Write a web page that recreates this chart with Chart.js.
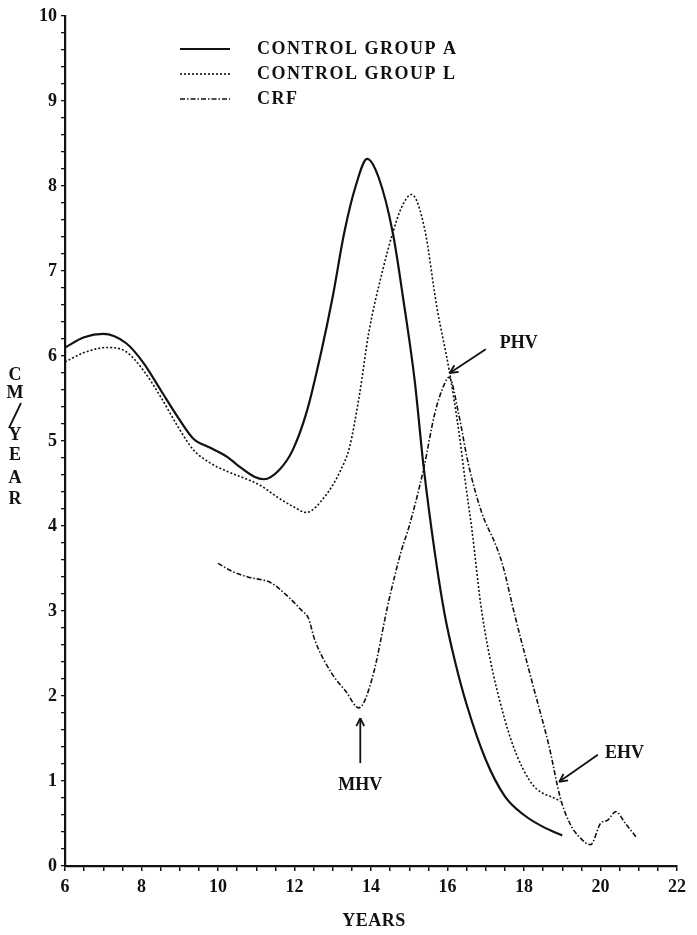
<!DOCTYPE html>
<html>
<head>
<meta charset="utf-8">
<script src="https://cdn.jsdelivr.net/npm/chart.js@4.4.1/dist/chart.umd.min.js"></script>
<style>
  html, body { margin: 0; padding: 0; background: #fff; }
  #wrap { width: 697px; height: 935px; }
</style>
</head>
<body>
<div id="wrap"><canvas id="growthChart"></canvas></div>
<script>
// values (age in years, velocity in cm/year)
const groupAYears = [6, 6.5, 7, 7.6, 8.05, 8.5, 8.95, 9.35, 9.8, 10.25, 10.5, 10.95, 11.2, 11.6, 11.95, 12.33, 12.7, 13.0, 13.3, 13.6, 13.9, 14.2, 14.57, 14.85, 15.14, 15.38, 15.67, 15.93, 16.2, 16.5, 17.0, 17.5, 18.0, 18.5, 19.0];
const groupAValues = [6.1, 6.22, 6.26, 6.15, 5.92, 5.6, 5.28, 5.03, 4.92, 4.81, 4.72, 4.58, 4.55, 4.66, 4.89, 5.36, 6.05, 6.7, 7.45, 8.0, 8.32, 8.1, 7.45, 6.65, 5.72, 4.68, 3.68, 2.95, 2.4, 1.9, 1.25, 0.82, 0.6, 0.46, 0.36];

const groupLYears = [6, 6.5, 7.1, 7.6, 8.05, 8.5, 8.95, 9.35, 9.8, 10.25, 10.7, 11.1, 11.55, 12.0, 12.3, 12.8, 13.2, 13.44, 13.7, 13.94, 14.3, 14.57, 14.8, 15.06, 15.4, 15.72, 16.04, 16.3, 16.46, 16.64, 16.9, 17.5, 18.14, 18.95];
const groupLValues = [5.93, 6.04, 6.1, 6.05, 5.83, 5.52, 5.17, 4.9, 4.74, 4.64, 4.56, 4.48, 4.34, 4.22, 4.16, 4.35, 4.65, 4.93, 5.55, 6.27, 7.0, 7.45, 7.75, 7.9, 7.5, 6.58, 5.84, 5.1, 4.54, 3.95, 2.98, 1.72, 1.01, 0.76];

const crfYears = [10.0, 10.4, 10.78, 11.39, 11.83, 12.2, 12.36, 12.53, 12.97, 13.35, 13.68, 14.02, 14.47, 14.8, 15.0, 15.38, 15.67, 15.93, 16.04, 16.3, 16.54, 16.9, 17.24, 17.43, 17.77, 18.22, 18.66, 18.95, 19.2, 19.45, 19.74, 20.0, 20.19, 20.4, 20.65, 20.95];
const crfValues = [3.56, 3.46, 3.4, 3.33, 3.17, 3.0, 2.92, 2.66, 2.27, 2.05, 1.86, 2.19, 3.13, 3.72, 4.0, 4.68, 5.33, 5.68, 5.75, 5.3, 4.74, 4.15, 3.8, 3.56, 2.93, 2.15, 1.4, 0.8, 0.5, 0.34, 0.25, 0.5, 0.54, 0.64, 0.5, 0.33];

const seriesNames = ['CONTROL GROUP A', 'CONTROL GROUP L', 'CRF'];
const xTickLabels = [6, 8, 10, 12, 14, 16, 18, 20, 22];
const yTickLabels = [0, 1, 2, 3, 4, 5, 6, 7, 8, 9, 10];

// annotations: label, text position, arrow tail, arrow head (data coords)
const notes = [
    { text: 'PHV', at: [17.86, 6.15], from: [17.0, 6.08], to: [16.06, 5.8] },
    { text: 'MHV', at: [13.72, 0.95], from: [13.72, 1.21], to: [13.72, 1.74] },
    { text: 'EHV', at: [20.63, 1.33], from: [19.93, 1.31], to: [18.92, 0.99] }
];

const FONT = '"Liberation Serif", "DejaVu Serif", serif';
const ink = '#111';

function toPoints(xs, ys) {
    return xs.map((x, i) => ({ x: x, y: ys[i] }));
}

function drawArrow(ctx, x1, y1, x2, y2) {
    const ang = Math.atan2(y2 - y1, x2 - x1);
    const head = 9;
    ctx.beginPath();
    ctx.moveTo(x1, y1);
    ctx.lineTo(x2, y2);
    ctx.stroke();
    ctx.beginPath();
    ctx.moveTo(x2, y2);
    ctx.lineTo(x2 - head * Math.cos(ang - 0.45), y2 - head * Math.sin(ang - 0.45));
    ctx.moveTo(x2, y2);
    ctx.lineTo(x2 - head * Math.cos(ang + 0.45), y2 - head * Math.sin(ang + 0.45));
    ctx.stroke();
}

const extrasPlugin = {
    id: 'extras',
    afterDraw(chart) {
        const ctx = chart.ctx;
        const xs = chart.scales.x;
        const ys = chart.scales.y;
        ctx.save();
        ctx.fillStyle = ink;
        ctx.strokeStyle = ink;
        ctx.font = 'bold 18px ' + FONT;

        // legend
        const styles = chart.data.datasets.map(ds => ({ dash: ds.borderDash || [], w: ds.borderWidth }));
        const legendY = [49, 74, 99];
        seriesNames.forEach((name, i) => {
            ctx.beginPath();
            ctx.setLineDash(styles[i].dash);
            ctx.lineWidth = styles[i].w;
            ctx.moveTo(180, legendY[i]);
            ctx.lineTo(230, legendY[i]);
            ctx.stroke();
            ctx.setLineDash([]);
            ctx.textAlign = 'left';
            ctx.textBaseline = 'middle';
            ctx.letterSpacing = '1.5px';
            ctx.fillText(name, 257, legendY[i]);
            ctx.letterSpacing = '0px';
        });

        // y axis title, stacked letters
        ctx.textAlign = 'center';
        ctx.textBaseline = 'middle';
        const letters = [['C', 375], ['M', 393], ['Y', 435], ['E', 455], ['A', 478], ['R', 499]];
        letters.forEach(l => ctx.fillText(l[0], 15, l[1]));
        ctx.lineWidth = 1.8;
        ctx.beginPath();
        ctx.moveTo(21, 403);
        ctx.lineTo(9, 428);
        ctx.stroke();

        // x axis title
        ctx.letterSpacing = '0.5px';
        ctx.fillText('YEARS', 374, 921);
        ctx.letterSpacing = '0px';

        // annotations
        ctx.lineWidth = 1.8;
        notes.forEach(n => {
            ctx.fillText(n.text, xs.getPixelForValue(n.at[0]), ys.getPixelForValue(n.at[1]));
            drawArrow(ctx,
                xs.getPixelForValue(n.from[0]), ys.getPixelForValue(n.from[1]),
                xs.getPixelForValue(n.to[0]), ys.getPixelForValue(n.to[1]));
        });
        ctx.restore();
    }
};

new Chart(document.getElementById('growthChart'), {
    type: 'line',
    data: {
        datasets: [
            {
                label: seriesNames[0],
                data: toPoints(groupAYears, groupAValues),
                borderColor: ink,
                borderWidth: 2.2,
                pointRadius: 0,
                cubicInterpolationMode: 'monotone'
            },
            {
                label: seriesNames[1],
                data: toPoints(groupLYears, groupLValues),
                borderColor: ink,
                borderWidth: 1.6,
                borderDash: [2, 2],
                pointRadius: 0,
                cubicInterpolationMode: 'monotone'
            },
            {
                label: seriesNames[2],
                data: toPoints(crfYears, crfValues),
                borderColor: ink,
                borderWidth: 1.6,
                borderDash: [5, 2, 1.5, 2],
                pointRadius: 0,
                cubicInterpolationMode: 'monotone'
            }
        ]
    },
    options: {
        responsive: true,
        maintainAspectRatio: false,
        animation: false,
        layout: { padding: { top: 16, right: 20, left: 0, bottom: 0 } },
        plugins: {
            legend: { display: false },
            tooltip: { enabled: false }
        },
        scales: {
            x: {
                type: 'linear',
                min: 6,
                max: 22,
                afterFit: scale => { scale.height = 69; },
                border: { color: ink, width: 2.2 },
                grid: { drawOnChartArea: false, drawTicks: true, tickLength: 5, color: ink, lineWidth: 1.5 },
                ticks: {
                    stepSize: 0.5,
                    autoSkip: false,
                    maxRotation: 0,
                    padding: 6,
                    color: ink,
                    font: { family: FONT, size: 18, weight: 'bold' },
                    callback: v => xTickLabels.includes(v) ? String(v) : ''
                }
            },
            y: {
                min: 0,
                max: 10,
                afterFit: scale => { scale.width = 65; },
                border: { color: ink, width: 2.2 },
                grid: { drawOnChartArea: false, drawTicks: true, tickLength: 4, color: ink, lineWidth: 1.3 },
                ticks: {
                    stepSize: 0.2,
                    autoSkip: false,
                    padding: 4,
                    color: ink,
                    font: { family: FONT, size: 18, weight: 'bold' },
                    callback: v => {
                        const r = Math.round(v);
                        return (Math.abs(v - r) < 1e-6 && yTickLabels.includes(r)) ? String(r) : '';
                    }
                }
            }
        }
    },
    plugins: [extrasPlugin]
});
</script>
</body>
</html>
